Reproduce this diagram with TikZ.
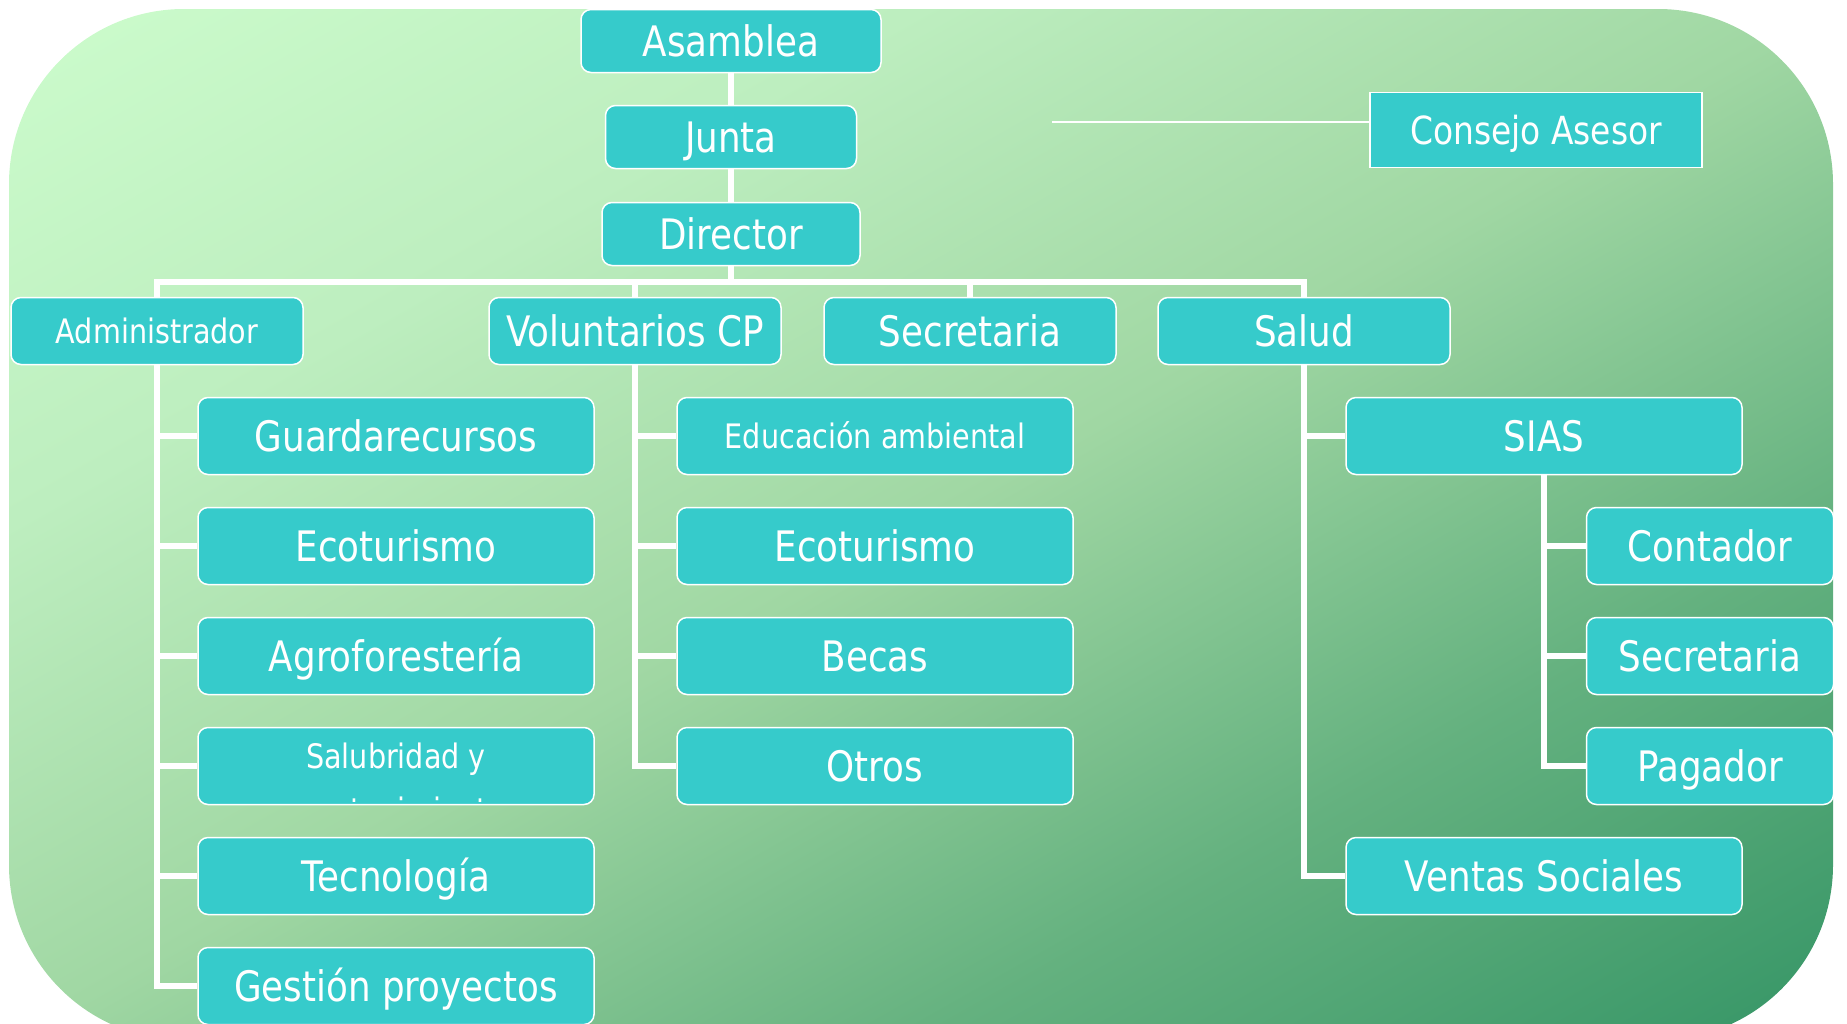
\documentclass[tikz,border=0pt]{standalone}
\usepackage{fontspec}
\setmainfont{DejaVu Sans}[FakeStretch=0.85]
\definecolor{boxc}{HTML}{36CBCB}
\definecolor{bglight}{HTML}{CCFCCC}
\definecolor{bgq1}{HTML}{BDEEBF}
\definecolor{bgmid}{HTML}{A0D7A3}
\definecolor{bgq3}{HTML}{64B17F}
\definecolor{bgdark}{HTML}{359566}
\pgfdeclareverticalshading{bgshade}{100bp}{color(0bp)=(bgdark); color(25bp)=(bgdark); color(37.5bp)=(bgq3); color(50bp)=(bgmid); color(62.5bp)=(bgq1); color(75bp)=(bglight); color(100bp)=(bglight)}
\pgfdeclarelayer{back}
\pgfdeclarelayer{mid}
\pgfsetlayers{back,mid,main}
\begin{document}
\begin{tikzpicture}[x=1pt,y=-1pt,
  box/.style={draw=white,line width=1.5pt,fill=boxc,rounded corners=10pt,text=white,inner sep=0pt,align=center},
  bigtxt/.style={font=\fontsize{42}{50}\selectfont,text height=30.5pt,text depth=0pt},
  smalltxt/.style={font=\fontsize{33.7}{41}\selectfont,text height=25pt,text depth=0pt},
  topbox/.style={box,bigtxt,minimum height=63pt},
  lvlbox/.style={box,minimum width=292pt,minimum height=67pt},
  leafbox/.style={box,minimum width=396pt,minimum height=77pt},
  rightbox/.style={box,bigtxt,minimum width=247pt,minimum height=77pt},
  conn/.style={draw=white,line width=6pt},
  thinconn/.style={draw=white,line width=1.5pt}]
\useasboundingbox (0,0) rectangle (1847,1023);
\begin{pgfonlayer}{back}
  \begin{scope}
    \clip[rounded corners=175pt] (9,9) rectangle (1833,1040);
    \begin{scope}[transform canvas={shift={(921,524.5)},rotate=29.5}]
      \shade[shading=bgshade] (-1250,-897.6) rectangle (1250,897.6);
    \end{scope}
  \end{scope}
\end{pgfonlayer}

% top chain
\node[topbox,minimum width=300pt] (asam) at (731,41) {Asamblea};
\node[topbox,minimum width=251pt] (junta) at (731,137) {Junta};
\node[topbox,minimum width=258pt] (dir) at (731,234) {Director};
\node[box,rounded corners=0pt,minimum width=332pt,minimum height=75pt,font=\fontsize{38.7}{46}\selectfont,text height=28pt,text depth=0pt] (cons) at (1536,130) {Consejo Asesor};

% level 2
\node[lvlbox,smalltxt] (admin) at (157,331) {Administrador};
\node[lvlbox,bigtxt] (vol) at (635,331) {Voluntarios CP};
\node[lvlbox,bigtxt] (secr) at (970,331) {Secretaria};
\node[lvlbox,bigtxt] (salud) at (1304,331) {Salud};

% admin column
\node[leafbox,bigtxt] (guard) at (396,436) {Guardarecursos};
\node[leafbox,bigtxt] (ecoa) at (396,546) {Ecoturismo};
\node[leafbox,bigtxt] (agro) at (396,656) {Agroforestería};
\node[leafbox] (sal) at (396,766) {};
\begin{scope}
  \clip ([xshift=2pt]sal.north west) rectangle ([xshift=-2pt]sal.east |- 0,801);
  \node[font=\fontsize{33.7}{41}\selectfont,text=white,inner sep=0pt,anchor=base] (saltxta) at (396,768) {Salubridad y};
  \node[font=\fontsize{33.7}{41}\selectfont,text=white,inner sep=0pt,anchor=base] (saltxtb) at (396,822) {mantenimiento};
\end{scope}
\node[leafbox,bigtxt] (tec) at (396,876) {Tecnología};
\node[leafbox,bigtxt] (gest) at (396,986) {Gestión proyectos};

% voluntarios column
\node[leafbox,smalltxt] (edu) at (875,436) {Educación ambiental};
\node[leafbox,bigtxt] (ecob) at (875,546) {Ecoturismo};
\node[leafbox,bigtxt] (becas) at (875,656) {Becas};
\node[leafbox,bigtxt] (otros) at (875,766) {Otros};

% salud column
\node[leafbox,bigtxt] (sias) at (1544,436) {SIAS};
\node[leafbox,bigtxt] (ventas) at (1544,876) {Ventas Sociales};
\node[rightbox] (cont) at (1710,546) {Contador};
\node[rightbox] (secb) at (1710,656) {Secretaria};
\node[rightbox] (pag) at (1710,766) {Pagador};

\begin{pgfonlayer}{mid}
  \draw[conn] (asam.south) -- (junta.north);
  \draw[conn] (junta.south) -- (dir.north);
  \coordinate (bar) at (731,282);
  \draw[conn] (dir.south) -- (bar);
  \draw[conn] (admin.north) |- (bar) -| (salud.north);
  \draw[conn] (vol.north) -- (vol.north |- bar);
  \draw[conn] (secr.north) -- (secr.north |- bar);
  % admin
  \draw[conn] (admin.south) |- (gest.west);
  \foreach \n in {guard,ecoa,agro,sal,tec}
    \draw[conn] (admin.south |- \n.west) -- (\n.west);
  % voluntarios
  \draw[conn] (vol.south) |- (otros.west);
  \foreach \n in {edu,ecob,becas}
    \draw[conn] (vol.south |- \n.west) -- (\n.west);
  % salud
  \draw[conn] (salud.south) |- (ventas.west);
  \draw[conn] (salud.south |- sias.west) -- (sias.west);
  % sias
  \draw[conn] (sias.south) |- (pag.west);
  \foreach \n in {cont,secb}
    \draw[conn] (sias.south |- \n.west) -- (\n.west);
  % consejo
  \coordinate (cfree) at (1052,122);
  \draw[thinconn] (cfree) -- (cfree -| cons.west);
\end{pgfonlayer}
\end{tikzpicture}
\end{document}
